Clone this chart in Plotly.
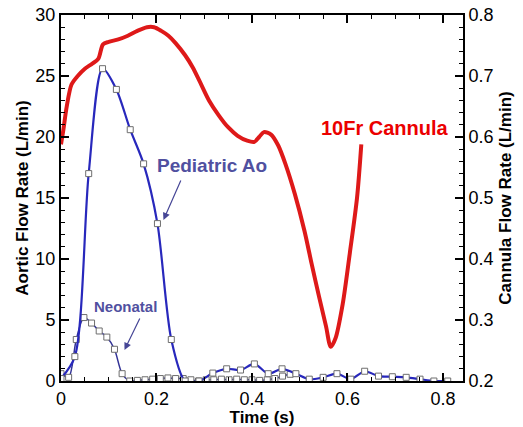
import plotly.graph_objects as go

# ---------------- data ----------------
# 10Fr cannula flow (right axis, L/min)
cannula_t = [0, 0.005, 0.012, 0.022, 0.035, 0.05, 0.065, 0.078, 0.088, 0.10, 0.12, 0.14,
             0.16, 0.18, 0.195, 0.21, 0.225, 0.24, 0.26, 0.276, 0.29, 0.31, 0.33, 0.35,
             0.37, 0.39, 0.405, 0.415, 0.425, 0.44, 0.455, 0.47, 0.49, 0.51, 0.525, 0.54,
             0.555, 0.565, 0.575, 0.59, 0.605, 0.62, 0.629]
cannula_q = [0.588, 0.612, 0.650, 0.686, 0.700, 0.712, 0.720, 0.728, 0.752, 0.756, 0.760,
             0.766, 0.774, 0.780, 0.780, 0.774, 0.766, 0.754, 0.734, 0.714, 0.692, 0.660,
             0.636, 0.616, 0.602, 0.594, 0.592, 0.600, 0.608, 0.604, 0.586, 0.556, 0.506,
             0.446, 0.392, 0.340, 0.290, 0.256, 0.270, 0.326, 0.410, 0.500, 0.588]

# Pediatric aortic flow (left axis, L/min)
ped_t = [0, 0.029, 0.058, 0.087, 0.116, 0.145, 0.173, 0.202, 0.231, 0.260, 0.289, 0.318,
         0.347, 0.376, 0.405, 0.434, 0.463, 0.492, 0.520, 0.549, 0.578, 0.607, 0.636,
         0.665, 0.694, 0.723, 0.752, 0.781, 0.810]
ped_q = [0.2, 2.0, 17.0, 25.6, 23.9, 20.6, 17.8, 12.9, 3.4, 0.0, 0.0, 0.65, 1.0, 0.9, 1.4,
         0.6, 1.0, 0.6, 0.15, 0.3, 0.6, 0.15, 0.8, 0.4, 0.35, 0.3, 0.15, 0.0, 0.0]

# Neonatal aortic flow (left axis, L/min)
neo_t = [0, 0.016, 0.032, 0.048, 0.064, 0.080, 0.096, 0.112, 0.128, 0.144, 0.160, 0.176,
         0.192, 0.208, 0.224, 0.240, 0.256, 0.272, 0.288, 0.304, 0.320, 0.336, 0.352,
         0.368, 0.384, 0.400, 0.416, 0.432, 0.448, 0.464, 0.480]
neo_q = [0.6, 0.3, 3.4, 5.2, 4.75, 4.1, 3.6, 2.6, 0.6, 0.0, 0.05, 0.1, 0.15, 0.2, 0.25,
         0.2, 0.2, 0.1, 0.0, 0.1, 0.1, 0.15, 0.1, 0.15, 0.1, 0.1, 0.05, 0.1, 0.2, 0.4, 0.55]

x_ticks = [0, 0.2, 0.4, 0.6, 0.8]
y_ticks = [0, 5, 10, 15, 20, 25, 30]
y2_ticks = [0.2, 0.3, 0.4, 0.5, 0.6, 0.7, 0.8]

FONT = "Arial, Liberation Sans, sans-serif"
BLUE = "rgb(40,40,188)"
LABEL_BLUE = "rgb(80,80,160)"
RED = "rgb(222,25,25)"

fig = go.Figure()

fig.add_trace(go.Scatter(x=cannula_t, y=cannula_q, yaxis="y2", mode="lines",
                         line=dict(color=RED, width=4, shape="spline", smoothing=0.8),
                         showlegend=False, hoverinfo="skip"))

fig.add_trace(go.Scatter(x=neo_t, y=neo_q, mode="lines",
                         line=dict(color="rgb(50,50,150)", width=1.5, shape="spline", smoothing=0.8),
                         showlegend=False))
fig.add_trace(go.Scatter(x=neo_t, y=neo_q, mode="markers",
                         marker=dict(symbol="square", size=6, color="white",
                                     line=dict(width=1, color="rgb(110,110,110)")),
                         showlegend=False))
fig.add_trace(go.Scatter(x=ped_t, y=ped_q, mode="lines",
                         line=dict(color=BLUE, width=2.2, shape="spline", smoothing=0.8),
                         showlegend=False))
fig.add_trace(go.Scatter(x=ped_t, y=ped_q, mode="markers",
                         marker=dict(symbol="square", size=6, color="white",
                                     line=dict(width=1, color="rgb(110,110,110)")),
                         showlegend=False))

axis_common = dict(showline=True, linecolor="black", linewidth=2, ticks="inside",
                   ticklen=8, tickwidth=2, tickcolor="black", showgrid=False,
                   zeroline=False, automargin=False,
                   tickfont=dict(family=FONT, size=18, color="black"))

fig.update_layout(
    width=523, height=427,
    margin=dict(l=61, r=60, t=15, b=46),
    paper_bgcolor="white", plot_bgcolor="white",
    xaxis=dict(range=[0, 0.842], tickvals=x_ticks, ticktext=[str(v) for v in x_ticks],
               mirror="ticks",
               minor=dict(dtick=0.05, ticklen=4, ticks="inside", tickcolor="black", tickwidth=1),
               title=dict(text="<b>Time (s)</b>", font=dict(family=FONT, size=17, color="black"),
                          standoff=0),
               **axis_common),
    yaxis=dict(range=[0, 30], tickvals=y_ticks, ticktext=[str(v) for v in y_ticks],
               minor=dict(dtick=1, ticklen=4, ticks="inside", tickcolor="black", tickwidth=1),
               title=dict(text="<b>Aortic Flow Rate (L/min)</b>",
                          font=dict(family=FONT, size=17, color="black"), standoff=2),
               **axis_common),
    yaxis2=dict(range=[0.2, 0.8], overlaying="y", side="right",
                tickvals=y2_ticks, ticktext=[f"{v:.1f}" for v in y2_ticks],
                minor=dict(dtick=0.02, ticklen=4, ticks="inside", tickcolor="black", tickwidth=1),
                title=dict(text="<b>Cannula Flow Rate (L/min)</b>",
                           font=dict(family=FONT, size=17, color="black"), standoff=6),
                **axis_common),
)

fig.add_annotation(x=0.317, y=17.7, text="<b>Pediatric Ao</b>", showarrow=False,
                   font=dict(family=FONT, size=19, color=LABEL_BLUE))
fig.add_annotation(x=0.2146, y=13.2, ax=18, ay=-41, text="", showarrow=True,
                   arrowhead=2, arrowsize=1.2, arrowwidth=1.2, arrowcolor="rgb(70,70,150)")
fig.add_annotation(x=0.135, y=6.07, text="<b>Neonatal</b>", showarrow=False,
                   font=dict(family=FONT, size=15, color=LABEL_BLUE))
fig.add_annotation(x=0.133, y=2.54, ax=16, ay=-33, text="", showarrow=True,
                   arrowhead=2, arrowsize=1.2, arrowwidth=1.2, arrowcolor="rgb(70,70,150)")
fig.add_annotation(x=0.679, y=20.7, text="<b>10Fr Cannula</b>", showarrow=False,
                   font=dict(family=FONT, size=20, color="rgb(235,0,0)"))

fig.write_html("out.html", config={"displayModeBar": False},
               post_script="document.body.style.margin='0';document.body.style.overflow='hidden';")
